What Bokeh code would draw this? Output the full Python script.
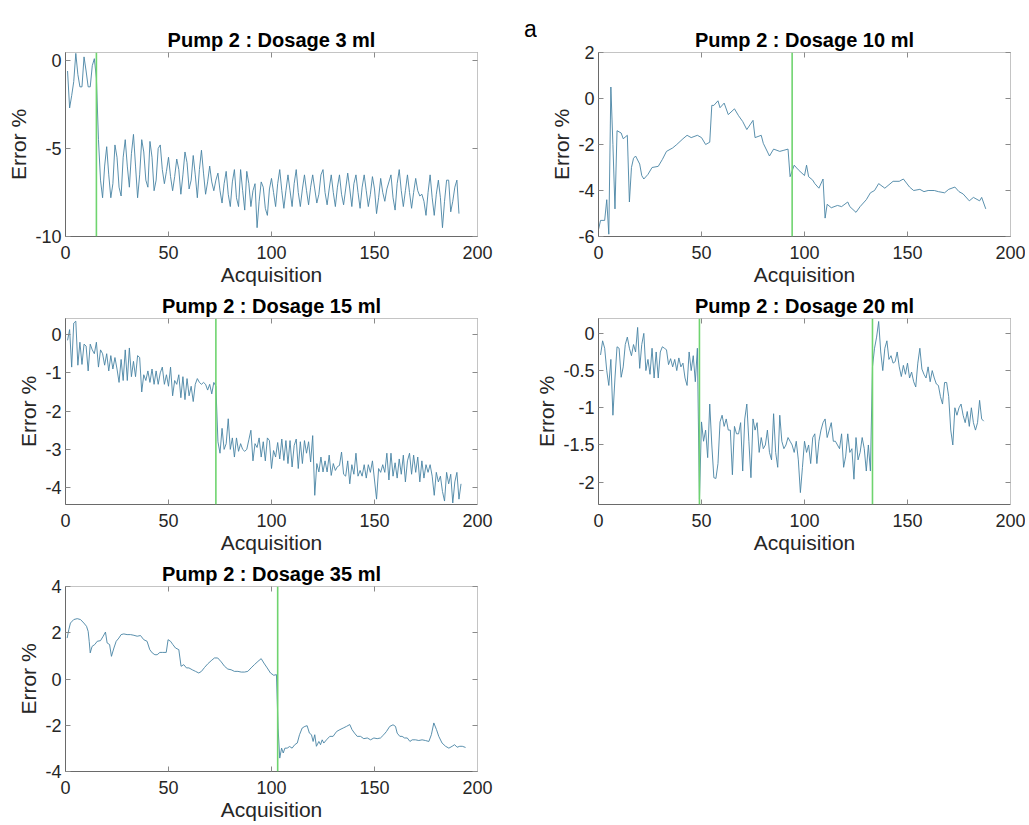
from bokeh.plotting import figure
from bokeh.models import Span, LinearAxis, FixedTicker, Range1d
from bokeh.layouts import row, column
from bokeh.embed import file_html
from bokeh.resources import INLINE

# ---------------- data ----------------
titles = ["Pump 2 : Dosage 3 ml", "Pump 2 : Dosage 10 ml", "Pump 2 : Dosage 15 ml",
          "Pump 2 : Dosage 20 ml", "Pump 2 : Dosage 35 ml"]
panel_tag = "a"

x_ticks = [0, 50, 100, 150, 200]
x_tick_labels = ["0", "50", "100", "150", "200"]

# 3 ml (acquisition 1..191)
err_3ml = [-0.6, -2.7, -2.0, -1.2, 0.4, -0.8, -1.5, -1.5, 0.2, -0.6,
           -1.5, -1.5, -0.3, 0.1, -1.0, -4.5, -6.8, -7.8, -6.0, -4.9,
           -6.5, -7.8, -7.0, -4.8, -5.5, -7.2, -7.7, -5.5, -4.5, -6.0,
           -7.2, -5.3, -4.2, -6.0, -7.8, -6.5, -4.5, -5.2, -6.8, -7.2,
           -4.6, -5.5, -7.4, -6.8, -5.0, -4.8, -6.2, -7.0, -6.3, -5.5,
           -6.6, -7.4, -6.6, -5.6, -6.2, -7.6, -6.5, -5.2, -5.8, -7.3,
           -6.8, -5.4, -6.5, -7.8, -6.2, -5.1, -6.4, -7.6, -6.9, -6.0,
           -6.9, -7.4, -6.8, -6.4, -7.4, -8.1, -7.0, -6.3, -7.6, -8.3,
           -6.9, -6.2, -7.8, -8.3, -6.2, -7.4, -8.5, -6.3, -7.0, -8.3,
           -7.4, -7.0, -9.5, -8.0, -6.9, -7.2, -8.4, -8.8, -7.3, -6.7,
           -7.5, -8.3, -7.0, -6.2, -7.4, -8.4, -7.4, -6.5, -7.4, -8.3,
           -7.0, -6.2, -7.5, -8.3, -7.3, -6.5, -7.4, -8.2, -7.2, -6.5,
           -7.3, -8.1, -7.6, -6.5, -6.2, -7.5, -8.2, -7.3, -6.5, -7.5,
           -8.3, -7.2, -6.5, -7.6, -8.2, -7.3, -6.4, -7.3, -8.3, -7.0,
           -6.5, -7.5, -8.4, -7.2, -6.5, -7.4, -8.3, -7.6, -6.6, -7.3,
           -8.7, -7.8, -6.7, -7.5, -8.0, -7.3, -6.9, -6.5, -7.8, -8.5,
           -7.0, -6.2, -7.4, -8.3, -7.4, -6.5, -7.5, -8.4, -7.5, -6.7,
           -7.4, -7.7, -7.6, -8.0, -8.8, -7.5, -6.5, -7.8, -8.8, -7.6,
           -6.8, -7.8, -9.5, -8.0, -6.8, -6.8, -8.6, -8.0, -7.2, -6.8,
           -8.7]

# 10 ml (acquisition, error)
acq_10ml = [0, 1, 3, 4, 5, 6, 7, 8, 9, 11, 12, 14, 15, 16, 17, 18, 20, 21, 22, 24,
            26, 29, 31, 33, 36, 38, 41, 43, 45, 48, 50, 52, 54, 55, 56, 58, 59, 61, 63, 66,
            68, 70, 72, 75, 76, 79, 80, 83, 85, 88, 90, 92, 93, 95, 97, 100, 101, 102, 104, 105,
            107, 109, 110, 111, 113, 116, 118, 121, 122, 125, 127, 130, 132, 134, 136, 139, 141, 143, 146, 148,
            151, 153, 156, 158, 160, 163, 165, 168, 170, 173, 175, 177, 180, 182, 185, 186, 188]
err_10ml = [-5.7, -5.3, -5.3, -4.4, -5.9, 0.5, -2.0, -4.8, -1.4, -1.5,
            -1.75, -1.6, -4.5, -3.0, -2.6, -2.5, -2.85, -3.35, -3.5, -3.3,
            -3.0, -2.95, -2.65, -2.3, -2.15, -2.0, -1.75, -1.6, -1.7, -1.6,
            -1.7, -2.0, -1.9, -0.3, -0.3, -0.1, -0.4, -0.2, -0.7, -0.45,
            -0.75, -1.0, -1.35, -0.95, -1.7, -1.6, -1.95, -2.5, -2.2, -2.3,
            -2.25, -2.2, -3.4, -2.9, -3.1, -3.35, -2.9, -3.4, -3.55, -3.7,
            -3.9, -3.5, -5.2, -4.6, -4.75, -4.65, -4.7, -4.5, -4.7, -4.95,
            -4.7, -4.4, -4.1, -4.0, -3.7, -3.9, -3.75, -3.6, -3.6, -3.5,
            -3.85, -4.0, -3.95, -4.05, -4.0, -4.0, -4.05, -4.1, -3.95, -3.85,
            -4.05, -4.15, -4.45, -4.3, -4.45, -4.3, -4.8]

# 15 ml (acquisition 1..192)
err_15ml = [-0.15, 0.13, -0.85, 0.3, 0.35, -0.8, -0.2, -0.78, -0.25, -0.3,
            -0.95, -0.25, -0.4, -0.5, -0.2, -0.85, -0.4, -0.5, -0.8, -0.5,
            -0.95, -0.55, -0.9, -0.6, -0.9, -1.25, -0.65, -1.2, -0.4, -1.2,
            -0.35, -1.1, -0.7, -1.1, -0.55, -0.6, -1.5, -1.05, -1.2, -0.95,
            -1.25, -0.9, -1.3, -0.95, -1.3, -1.0, -0.85, -1.3, -1.05, -1.35,
            -0.85, -1.6, -1.2, -1.3, -1.05, -1.65, -1.1, -1.7, -1.15, -1.6,
            -1.35, -1.75, -1.3, -1.15, -1.25, -1.3, -1.25, -1.3, -1.45, -1.3,
            -1.55, -1.25, -1.35, -2.8, -3.1, -2.45, -3.0, -2.85, -2.2, -3.0,
            -2.7, -3.2, -2.7, -3.05, -2.85, -3.0, -3.05, -3.0, -2.75, -2.5,
            -3.3, -2.85, -2.95, -2.7, -3.2, -2.8, -3.3, -2.7, -2.77, -3.5,
            -3.03, -3.2, -2.82, -3.25, -2.73, -3.29, -2.77, -3.37, -2.77, -3.46,
            -2.9, -2.73, -3.5, -2.8, -3.37, -2.77, -3.1, -2.8, -3.33, -2.64,
            -4.2, -3.37, -3.59, -3.2, -3.59, -3.3, -3.59, -3.15, -3.68, -3.37,
            -3.55, -3.45, -3.42, -3.07, -3.65, -3.7, -3.3, -3.9, -3.4, -3.65,
            -3.1, -3.7, -3.55, -3.7, -3.4, -3.75, -3.4, -3.6, -3.3, -3.8,
            -4.3, -3.5, -3.6, -3.4, -3.6, -3.1, -3.8, -3.1, -3.7, -3.35,
            -3.75, -3.25, -3.65, -3.15, -3.85, -3.3, -3.1, -3.65, -3.15, -3.6,
            -3.2, -3.85, -3.3, -3.75, -3.4, -3.6, -3.4, -3.7, -4.2, -3.6,
            -3.85, -3.7, -4.1, -4.35, -3.6, -3.9, -3.65, -4.4, -3.85, -3.6,
            -4.3, -3.9]

# 20 ml (acquisition 1..187)
err_20ml = [-0.29, -0.1, -0.2, -0.5, -0.7, -0.35, -1.1, -0.6, -0.18, -0.2,
            -0.59, -0.45, -0.15, -0.05, -0.2, -0.3, -0.15, -0.25, 0.08, -0.47,
            -0.15, 0.0, -0.5, -0.35, -0.55, -0.2, -0.6, -0.25, -0.6, -0.25,
            -0.18, -0.2, -0.22, -0.42, -0.34, -0.45, -0.35, -0.5, -0.33, -0.45,
            -0.4, -0.6, -0.7, -0.25, -0.5, -0.3, -0.65, -0.2, -2.23, -1.19,
            -1.45, -1.3, -1.67, -0.95, -1.5, -1.94, -1.95, -1.75, -1.19, -1.1,
            -1.25, -1.15, -1.3, -1.3, -1.9, -1.25, -1.35, -1.35, -1.2, -1.85,
            -1.15, -0.95, -1.45, -1.94, -1.15, -1.3, -1.2, -1.6, -1.4, -1.55,
            -1.5, -1.3, -1.6, -1.7, -1.08, -1.6, -1.8, -1.1, -1.45, -1.55,
            -1.5, -1.4, -1.45, -1.5, -1.6, -1.45, -1.7, -2.14, -1.8, -1.45,
            -1.6, -1.5, -1.75, -1.4, -1.35, -1.75, -1.45, -1.3, -1.2, -1.15,
            -1.4, -1.3, -1.2, -1.45, -1.45, -1.5, -1.55, -1.35, -1.8, -1.65,
            -1.35, -1.6, -1.55, -1.96, -1.4, -1.7, -1.6, -1.4, -1.55, -1.85,
            -1.5, -1.85, -0.45, -0.2, -0.05, 0.16, -0.25, -0.5, -0.2, -0.1,
            -0.35, -0.3, -0.4, -0.38, -0.25, -0.45, -0.58, -0.43, -0.55, -0.4,
            -0.6, -0.52, -0.65, -0.72, -0.4, -0.2, -0.48, -0.55, -0.6, -0.45,
            -0.65, -0.5, -0.6, -0.68, -0.7, -0.85, -0.95, -0.66, -0.66, -0.85,
            -1.3, -1.5, -1.0, -1.1, -1.0, -0.95, -1.1, -1.2, -1.05, -1.25,
            -1.0, -1.2, -1.3, -1.2, -0.9, -1.15, -1.18]

# 35 ml (acquisition, error)
acq_35ml = [0.8, 1.6, 2.4, 4.0, 5.7, 7.3, 8.9, 10.2, 11.0, 11.5,
            12.0, 12.9, 14.2, 15.4, 17.0, 18.3, 19.4, 20.2, 21.4, 22.3,
            23.5, 24.6, 25.9, 27.0, 28.3, 29.9, 31.6, 33.2, 34.8, 36.4,
            38.0, 39.6, 40.9, 42.1, 43.4, 44.5, 45.8, 47.2, 48.9, 49.8,
            51.0, 52.1, 53.4, 55.0, 56.1, 57.4, 58.7, 59.9, 61.5, 63.1,
            64.7, 66.0, 67.5, 69.1, 70.7, 72.3, 73.9, 75.6, 77.2, 78.8,
            80.4, 82.0, 83.7, 85.3, 86.9, 88.5, 90.1, 91.7, 93.4, 95.0,
            96.3, 97.9, 99.5, 101.1, 102.4, 103.2, 104.0, 104.9, 105.7, 106.5,
            107.6, 108.8, 110.0, 111.3, 112.5, 113.6, 114.9, 116.2, 117.3, 118.4,
            119.4, 120.2, 121.0, 121.8, 123.0, 123.8, 124.6, 125.4, 126.7, 128.3,
            129.9, 131.6, 133.2, 134.8, 136.4, 138.0, 139.1, 140.3, 141.6, 143.2,
            144.8, 146.5, 148.1, 149.7, 151.3, 152.9, 154.5, 155.8, 157.4, 159.0,
            160.2, 161.0, 162.3, 163.4, 164.6, 165.9, 167.2, 168.3, 169.9, 171.5,
            173.1, 174.7, 176.4, 177.6, 178.8, 180.1, 181.2, 182.8, 184.5, 186.1,
            187.7, 188.9, 190.1, 191.4, 192.6, 194.2]
err_35ml = [1.77, 2.13, 2.42, 2.57, 2.61, 2.57, 2.42, 2.28, 2.06, 1.63,
            1.13, 1.41, 1.49, 1.63, 1.66, 1.85, 2.03, 1.56, 1.49, 0.98,
            1.34, 1.63, 1.77, 1.92, 1.95, 1.92, 1.92, 1.89, 1.85, 1.88,
            1.70, 1.63, 1.27, 1.13, 1.05, 1.05, 1.15, 1.15, 1.15, 1.70,
            1.63, 1.49, 1.34, 1.27, 0.55, 0.62, 0.48, 0.48, 0.40, 0.33,
            0.26, 0.33, 0.50, 0.66, 0.79, 0.91, 0.91, 0.74, 0.55, 0.43,
            0.40, 0.33, 0.33, 0.30, 0.30, 0.33, 0.48, 0.62, 0.76, 0.88,
            0.69, 0.48, 0.26, 0.16, 0.19, -2.12, -3.42, -2.99, -3.20, -2.99,
            -2.99, -2.92, -2.99, -2.84, -2.77, -2.41, -2.12, -2.05, -2.02, -2.34,
            -2.41, -2.70, -2.41, -2.91, -2.70, -2.84, -2.63, -2.77, -2.63, -2.48,
            -2.48, -2.27, -2.19, -2.12, -2.05, -1.97, -2.19, -2.34, -2.48, -2.48,
            -2.58, -2.55, -2.63, -2.55, -2.58, -2.55, -2.41, -2.27, -2.05, -1.98,
            -2.05, -2.34, -2.48, -2.48, -2.55, -2.55, -2.70, -2.63, -2.63, -2.66,
            -2.63, -2.66, -2.70, -2.41, -1.90, -2.19, -2.48, -2.77, -2.91, -2.99,
            -2.91, -2.84, -2.95, -2.91, -2.91, -2.96]

# change-point markers (acquisition index of green lines)
events_3ml = [15]
events_10ml = [94]
events_15ml = [73]
events_20ml = [49, 133]
events_35ml = [103]

# y ranges and ticks
yrange_3ml = (-10, 0.45)
yrange_10ml = (-6, 2)
yrange_15ml = (-4.44, 0.42)
yrange_20ml = (-2.3, 0.2)
yrange_35ml = (-4, 4)
yticks_3ml = [-10, -5, 0]
yticks_10ml = [-6, -4, -2, 0, 2]
yticks_15ml = [-4, -3, -2, -1, 0]
yticks_20ml = [-2, -1.5, -1, -0.5, 0]
yticks_35ml = [-4, -2, 0, 2, 4]
ylabels_3ml = ["-10", "-5", "0"]
ylabels_10ml = ["-6", "-4", "-2", "0", "2"]
ylabels_15ml = ["-4", "-3", "-2", "-1", "0"]
ylabels_20ml = ["-2", "-1.5", "-1", "-0.5", "0"]
ylabels_35ml = ["-4", "-2", "0", "2", "4"]

# ---------------- styling ----------------
FONT = "Liberation Sans"
LINE_COLOR = "#4783a4"
EVENT_COLOR = "#6fd46f"
SPINE = "#6a6a6a"
BOX = "#c4c4c4"
TXT = "#262626"


def style_axis(ax, ticks, labels, label_text, is_x, show_labels=True, line_color=SPINE):
    ax.ticker = FixedTicker(ticks=ticks)
    ax.major_tick_in = 5
    ax.major_tick_out = 0
    ax.minor_tick_line_color = None
    ax.major_tick_line_color = "#8a8a8a"
    ax.axis_line_color = line_color
    if show_labels:
        ax.major_label_overrides = {t: l for t, l in zip(ticks, labels)}
        ax.major_label_text_font = FONT
        ax.major_label_text_font_size = "18px"
        ax.major_label_text_color = TXT
        ax.major_label_standoff = 9 if is_x else 4
        ax.axis_label = label_text
        ax.axis_label_text_font = FONT
        ax.axis_label_text_font_size = "21px"
        ax.axis_label_text_font_style = "normal"
        ax.axis_label_text_color = TXT
        ax.axis_label_standoff = 1 if is_x else 2
    else:
        ax.major_label_text_font_size = "1px"
        ax.major_label_text_color = None
        ax.major_label_standoff = 0


def make_fig(title, xs, ys, yr, yticks, ylabels, events, left, right, top, fh, bottom):
    p = figure(frame_width=412, frame_height=fh,
               x_range=Range1d(0, 200), y_range=Range1d(*yr),
               output_backend="svg", toolbar_location=None,
               min_border_left=left, min_border_right=right,
               min_border_top=top, min_border_bottom=bottom,
               background_fill_color="white", border_fill_color="white")
    p.title.text = title
    p.title.text_font = FONT
    p.title.text_font_size = "20px"
    p.title.text_font_style = "bold"
    p.title.text_color = "black"
    p.title.align = "center"
    p.title.standoff = 4
    p.grid.visible = False
    p.outline_line_color = BOX
    style_axis(p.xaxis[0], x_ticks, x_tick_labels, "Acquisition", True)
    style_axis(p.yaxis[0], yticks, ylabels, "Error %", False)
    top_ax = LinearAxis()
    right_ax = LinearAxis()
    style_axis(top_ax, x_ticks, x_tick_labels, "", True, show_labels=False, line_color=BOX)
    style_axis(right_ax, yticks, ylabels, "", False, show_labels=False, line_color=BOX)
    p.add_layout(top_ax, "above")
    p.add_layout(right_ax, "right")
    p.line(xs, ys, line_color=LINE_COLOR, line_width=0.9)
    for e in events:
        p.add_layout(Span(location=e, dimension="height", line_color=EVENT_COLOR, line_width=1.6))
    return p


# row 1: 3 ml | tag | 10 ml
p1 = make_fig(titles[0], list(range(1, len(err_3ml) + 1)), err_3ml, yrange_3ml,
              yticks_3ml, ylabels_3ml, events_3ml, 65, 20, 52, 184, 52)
p2 = make_fig(titles[1], acq_10ml, err_10ml, yrange_10ml,
              yticks_10ml, ylabels_10ml, events_10ml, 61, 15, 52, 184, 52)
# row 2: 15 ml | 20 ml
p3 = make_fig(titles[2], list(range(1, len(err_15ml) + 1)), err_15ml, yrange_15ml,
              yticks_15ml, ylabels_15ml, events_15ml, 65, 20, 30, 186, 52)
p4 = make_fig(titles[3], list(range(1, len(err_20ml) + 1)), err_20ml, yrange_20ml,
              yticks_20ml, ylabels_20ml, events_20ml, 101, 15, 30, 186, 52)
# row 3: 35 ml
p5 = make_fig(titles[4], acq_35ml, err_35ml, yrange_35ml,
              yticks_35ml, ylabels_35ml, events_35ml, 65, 20, 30, 185, 52)

# small blank panel carrying the figure tag "a" as its title
tag = figure(frame_width=14, frame_height=100, x_axis_location=None, y_axis_location=None,
             output_backend="svg", toolbar_location=None,
             min_border_left=26, min_border_right=0, min_border_top=37, min_border_bottom=0,
             outline_line_color=None, background_fill_color="white", border_fill_color="white")
tag.grid.visible = False
tag.title.text = panel_tag
tag.title.text_font = FONT
tag.title.text_font_size = "23px"
tag.title.text_font_style = "normal"
tag.title.text_color = "black"
tag.title.align = "center"
tag.title.standoff = 22

layout = column(row(p1, tag, p2), row(p3, p4), row(p5))

open("out.html", "w").write(file_html(layout, INLINE))
